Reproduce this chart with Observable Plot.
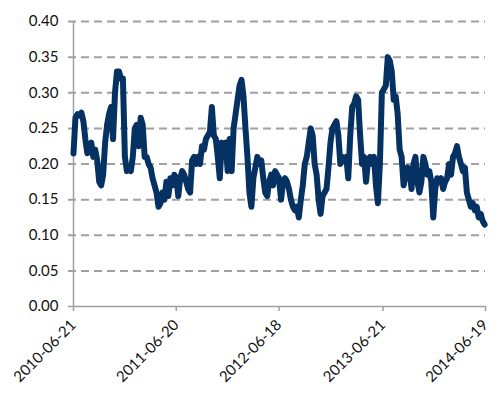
<!DOCTYPE html>
<html>
<head>
<meta charset="utf-8">
<script src="https://cdn.jsdelivr.net/npm/d3@7"></script>
<script src="https://cdn.jsdelivr.net/npm/@observablehq/plot@0.6"></script>
<style>
  html, body { margin: 0; padding: 0; background: #fff; }
</style>
</head>
<body>
<div id="chart"></div>
<script>
// Weekly samples, starting 2010-06-21
const startDate = "2010-06-21";
const endDate = "2014-06-19";
const values = [
  0.215, 0.265, 0.27, 0.268, 0.272, 0.26, 0.235, 0.215, 0.225, 0.23,
  0.21, 0.22, 0.205, 0.175, 0.17, 0.185, 0.23, 0.255, 0.27, 0.28,
  0.235, 0.30, 0.33, 0.33, 0.32, 0.32, 0.21, 0.19, 0.195, 0.19,
  0.21, 0.25, 0.255, 0.225, 0.265, 0.255, 0.21, 0.21, 0.20, 0.195,
  0.18, 0.17, 0.16, 0.14, 0.145, 0.16, 0.15, 0.175, 0.155, 0.18,
  0.17, 0.185, 0.18, 0.155, 0.18, 0.19, 0.185, 0.175, 0.165, 0.16,
  0.205, 0.21, 0.20, 0.21, 0.20, 0.225, 0.22, 0.235, 0.24, 0.245,
  0.28, 0.24, 0.235, 0.21, 0.18, 0.23, 0.225, 0.23, 0.19, 0.235,
  0.19, 0.25, 0.27, 0.29, 0.31, 0.318, 0.295, 0.25, 0.21, 0.16,
  0.14, 0.18, 0.195, 0.21, 0.20, 0.205, 0.18, 0.16, 0.155, 0.175,
  0.185, 0.17, 0.19, 0.185, 0.18, 0.15, 0.175, 0.18, 0.175, 0.165,
  0.15, 0.14, 0.135, 0.14, 0.125, 0.15, 0.17, 0.20, 0.21, 0.23,
  0.25, 0.24, 0.20, 0.185, 0.15, 0.13, 0.155, 0.16, 0.165, 0.195,
  0.23, 0.25, 0.255, 0.26, 0.24, 0.20, 0.21, 0.205, 0.21, 0.18,
  0.24, 0.28, 0.285, 0.295, 0.29, 0.24, 0.20, 0.21, 0.175, 0.205,
  0.21, 0.20, 0.21, 0.17, 0.145, 0.20, 0.30, 0.305, 0.31, 0.35,
  0.345, 0.33, 0.29, 0.295, 0.27, 0.22, 0.21, 0.17, 0.185, 0.195,
  0.19, 0.165, 0.20, 0.21, 0.175, 0.16, 0.175, 0.21, 0.20, 0.185,
  0.19, 0.175, 0.125, 0.165, 0.18, 0.175, 0.18, 0.165, 0.175, 0.18,
  0.20, 0.185, 0.21, 0.215, 0.225, 0.21, 0.20, 0.19, 0.195, 0.16,
  0.15, 0.14, 0.145, 0.135, 0.14, 0.125, 0.13, 0.12, 0.115
];
const xTickLabels = ["2010-06-21", "2011-06-20", "2012-06-18", "2013-06-21", "2014-06-19"];
const yTicks = [0, 0.05, 0.10, 0.15, 0.20, 0.25, 0.30, 0.35, 0.40];

const parse = d3.utcParse("%Y-%m-%d");
const t0 = parse(startDate);
const t1 = parse(endDate);
const data = values.map((v, i) => ({date: d3.utcDay.offset(t0, 7 * i), value: v}));
const xTicks = xTickLabels.map(parse);

const gray = "#a0a0a0";

const chart = Plot.plot({
  width: 498,
  height: 396,
  marginLeft: 73,
  marginRight: 13,
  marginTop: 21,
  marginBottom: 90,
  style: {fontFamily: "Lato, 'Open Sans', sans-serif", fontSize: "15px", color: "#111", background: "#fff"},
  x: {type: "utc", domain: [t0, t1], label: null},
  y: {domain: [0, 0.4], label: null},
  marks: [
    Plot.ruleY(yTicks.filter(d => d > 0), {stroke: gray, strokeWidth: 2, strokeDasharray: "8,5", insetLeft: -5}),
    Plot.ruleX([t0], {stroke: gray, strokeWidth: 1.5}),
    Plot.ruleY([0], {stroke: gray, strokeWidth: 1.5, insetLeft: -5}),
    Plot.axisY({ticks: yTicks, tickFormat: d3.format(".2f"), tickSize: 0, tickPadding: 15, fill: "#111", label: null}),
    Plot.axisX({ticks: xTicks, tickFormat: d3.utcFormat("%Y-%m-%d"), tickSize: 5, tickPadding: 11, stroke: gray, strokeWidth: 1.5, tickRotate: -45, fill: "#111", label: null}),
    Plot.line(data, {x: "date", y: "value", stroke: "#063263", strokeWidth: 6, strokeLinejoin: "round", strokeLinecap: "round"})
  ]
});
document.getElementById("chart").append(chart);
</script>
</body>
</html>
